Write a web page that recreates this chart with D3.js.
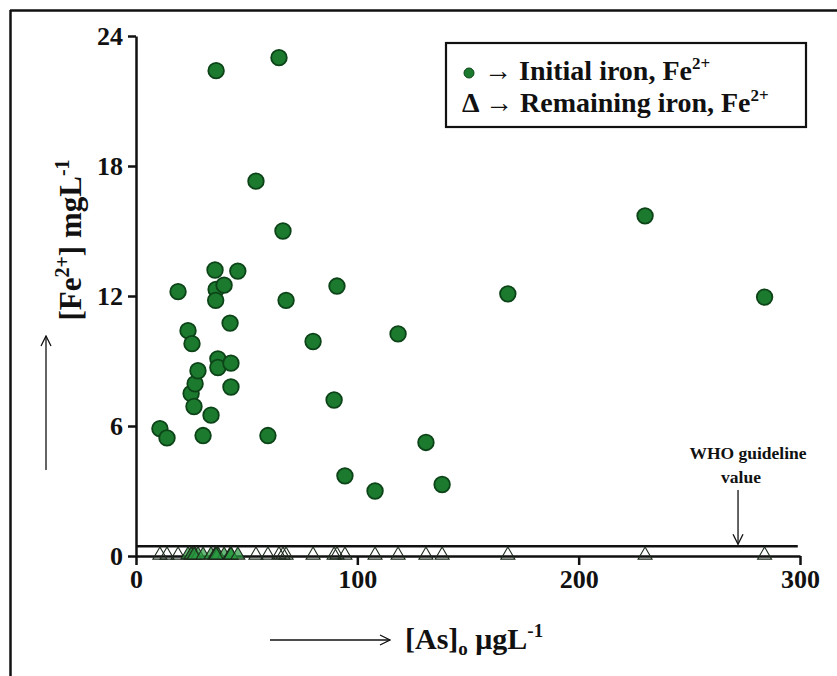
<!DOCTYPE html>
<html>
<head>
<meta charset="utf-8">
<script src="https://cdn.jsdelivr.net/npm/d3@7/dist/d3.min.js"></script>
<style>
  html, body { margin: 0; padding: 0; background: #fff; }
  svg { display: block; }
  svg text { font-family: "Liberation Serif", "Tinos", "Times New Roman", "DejaVu Serif", serif !important; font-weight: bold; fill: #111; }
</style>
</head>
<body>
<svg id="chart" width="837" height="676"></svg>
<script>
// ---- data ----
const arsenic = [10.8, 14, 19, 23.5, 25.3, 24.9, 26.7, 28, 26.2, 30.3, 33.9, 35.7, 36.2, 36, 37, 37, 39.8, 42.5, 42.9, 42.9, 46, 36.2, 64.6, 54.2, 66.4, 67.8, 59.6, 80, 89.5, 90.8, 94.4, 108, 118.4, 131, 138.3, 168, 230, 284];
const initialIron = [5.88, 5.45, 12.2, 10.4, 9.8, 7.5, 7.95, 8.55, 6.9, 5.56, 6.5, 13.2, 12.3, 11.8, 9.1, 8.7, 12.5, 10.75, 8.9, 7.8, 13.15, 22.4, 23.0, 17.3, 15.0, 11.8, 5.56, 9.9, 7.2, 12.46, 3.7, 3.0, 10.25, 5.24, 3.3, 12.1, 15.7, 11.95];
const remainingIron = [0.02, 0.02, 0.02, 0.03, 0.02, 0.03, 0.02, 0.03, 0.02, 0.02, 0.03, 0.02, 0.03, 0.02, 0.02, 0.03, 0.02, 0.02, 0.03, 0.02, 0.02, 0.02, 0.03, 0.02, 0.02, 0.02, 0.02, 0.02, 0.02, 0.03, 0.02, 0.02, 0.02, 0.02, 0.02, 0.02, 0.02, 0.02];
const xTicks = [0, 100, 200, 300];
const yTicks = [0, 6, 12, 18, 24];
const whoGuideline = 0.45;
const whoGuidelineAs = 272;

const svg = d3.select("#chart");
const x = d3.scaleLinear().domain([0, 300]).range([136, 800]);
const y = d3.scaleLinear().domain([0, 24]).range([556, 36]);

// defs: open arrow head
const defs = svg.append("defs");
defs.append("marker").attr("id", "openArrow").attr("viewBox", "0 0 12 12")
  .attr("refX", 11).attr("refY", 6).attr("markerWidth", 12).attr("markerHeight", 12)
  .attr("markerUnits", "userSpaceOnUse").attr("orient", "auto")
  .append("path").attr("d", "M1,1 L11,6 L1,11").attr("fill", "none").attr("stroke", "#111").attr("stroke-width", 1.3);

// outer frame (top and left only visible)
svg.append("line").attr("x1", 10).attr("x2", 837).attr("y1", 10.5).attr("y2", 10.5).attr("stroke", "#111").attr("stroke-width", 2.5);
svg.append("line").attr("x1", 10.5).attr("x2", 10.5).attr("y1", 10).attr("y2", 676).attr("stroke", "#111").attr("stroke-width", 2.5);

// WHO guideline line
svg.append("line").attr("x1", x(0)).attr("x2", x(299)).attr("y1", y(whoGuideline)).attr("y2", y(whoGuideline))
  .attr("stroke", "#111").attr("stroke-width", 2.5);

// axes
const yAxis = svg.append("g").attr("transform", `translate(${x(0)},0)`)
  .call(d3.axisLeft(y).tickValues(yTicks).tickSize(8).tickSizeOuter(0).tickPadding(5));
const xAxis = svg.append("g").attr("transform", `translate(0,${y(0)})`)
  .call(d3.axisBottom(x).tickValues(xTicks).tickSize(9).tickSizeOuter(0).tickPadding(5));
[yAxis, xAxis].forEach(g => {
  g.select(".domain").attr("stroke", "#111").attr("stroke-width", 2.5);
  g.selectAll(".tick line").attr("stroke", "#111").attr("stroke-width", 2.5);
  g.selectAll(".tick text").attr("font-size", 26).attr("fill", "#111");
});

// remaining iron triangles
const tri = d3.symbol().type(d3.symbolTriangle).size(85);
svg.append("g").selectAll("path").data(arsenic).join("path")
  .attr("d", tri)
  .attr("transform", (d, i) => `translate(${x(d)},${y(remainingIron[i]) - 0.5})`)
  .attr("fill", (d, i) => (d > 22 && d < 48) ? "#2a9a40" : "none")
  .attr("fill-opacity", 0.7)
  .attr("stroke", "#1d2a1d").attr("stroke-width", 1.1);

// initial iron circles
svg.append("g").selectAll("circle").data(arsenic).join("circle")
  .attr("cx", d => x(d)).attr("cy", (d, i) => y(initialIron[i])).attr("r", 7.8)
  .attr("fill", "#1c7a2f").attr("stroke", "#0c4418").attr("stroke-width", 1.8);

// legend
svg.append("rect").attr("x", 446).attr("y", 43).attr("width", 360).attr("height", 84)
  .attr("fill", "#fff").attr("stroke", "#111").attr("stroke-width", 2.2);
svg.append("circle").attr("cx", 469).attr("cy", 73).attr("r", 5).attr("fill", "#1c7a2f").attr("stroke", "#0c4418").attr("stroke-width", 1);
const l1 = svg.append("text").attr("x", 484).attr("y", 80).attr("font-size", 28);
l1.append("tspan").text("→ Initial iron, Fe");
l1.append("tspan").attr("font-size", 17).attr("dy", -11).text("2+");
const l2 = svg.append("text").attr("x", 462).attr("y", 112).attr("font-size", 28);
l2.append("tspan").text("Δ → Remaining iron, Fe");
l2.append("tspan").attr("font-size", 17).attr("dy", -11).text("2+");

// WHO annotation
svg.append("text").attr("x", 748).attr("y", 459).attr("text-anchor", "middle").attr("font-size", 17.5).text("WHO guideline");
svg.append("text").attr("x", 741).attr("y", 483).attr("text-anchor", "middle").attr("font-size", 17.5).text("value");
svg.append("line").attr("x1", x(whoGuidelineAs)).attr("x2", x(whoGuidelineAs)).attr("y1", 490).attr("y2", y(whoGuideline) - 2)
  .attr("stroke", "#111").attr("stroke-width", 1.3).attr("marker-end", "url(#openArrow)");

// y axis title
const yt = svg.append("text").attr("transform", "translate(81,240) rotate(-90)").attr("text-anchor", "middle").attr("font-size", 31);
yt.append("tspan").text("[Fe");
yt.append("tspan").attr("font-size", 20).attr("dy", -12).text("2+");
yt.append("tspan").attr("dy", 12).text("] mgL");
yt.append("tspan").attr("font-size", 20).attr("dy", -12).text("-1");
svg.append("line").attr("x1", 46).attr("x2", 46).attr("y1", 470).attr("y2", 336)
  .attr("stroke", "#111").attr("stroke-width", 1.3).attr("marker-end", "url(#openArrow)");

// x axis title
svg.append("line").attr("x1", 270).attr("x2", 390).attr("y1", 640).attr("y2", 640)
  .attr("stroke", "#111").attr("stroke-width", 1.3).attr("marker-end", "url(#openArrow)");
const xt = svg.append("text").attr("x", 405).attr("y", 649).attr("font-size", 30);
xt.append("tspan").text("[As]");
xt.append("tspan").attr("font-size", 19).attr("dy", 6).text("o");
xt.append("tspan").attr("dy", -6).text(" μgL");
xt.append("tspan").attr("font-size", 19).attr("dy", -12).text("-1");
</script>
</body>
</html>
